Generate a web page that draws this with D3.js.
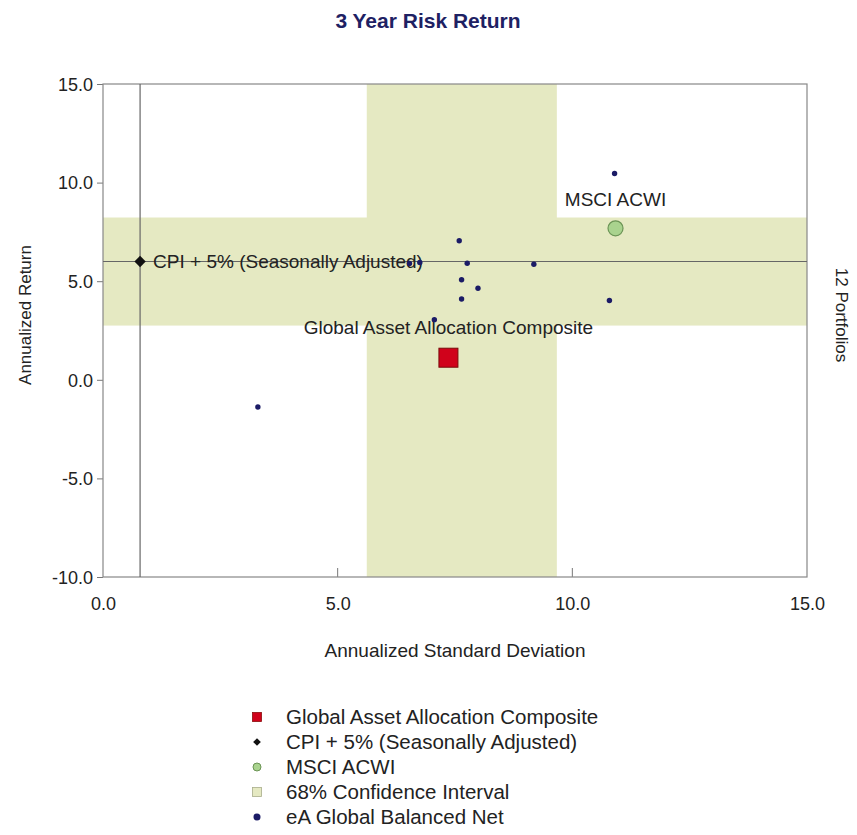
<!DOCTYPE html>
<html>
<head>
<meta charset="utf-8">
<script src="https://cdn.jsdelivr.net/npm/d3@7"></script>
<style>
  body { margin: 0; background: #fff; }
  text { font-family: "Liberation Sans", Arial, sans-serif; fill: #222; }
</style>
</head>
<body>
<svg id="chart" width="857" height="835"></svg>
<script>
// peer universe (eA Global Balanced Net): [std dev, return]
const peerRisk   = [10.90, 7.59, 7.76, 9.18, 7.64, 7.99, 7.64, 10.79, 3.30, 6.53, 6.75, 7.06];
const peerReturn = [10.46, 7.05, 5.91, 5.86, 5.07, 4.64, 4.10, 4.02, -1.38, 5.90, 5.95, 3.05];

const composite = {name: "Global Asset Allocation Composite", risk: 7.36, ret: 1.12};
const cpi = {name: "CPI + 5% (Seasonally Adjusted)", risk: 0.79, ret: 6.0};
const msci = {name: "MSCI ACWI", risk: 10.92, ret: 7.68};

// 68% confidence interval bands
const ciRisk = [5.62, 9.67];
const ciReturn = [2.75, 8.23];

const xTicks = [0, 5, 10, 15];
const yTicks = [-10, -5, 0, 5, 10, 15];

const legendItems = [
    {label: "Global Asset Allocation Composite", kind: "square"},
    {label: "CPI + 5% (Seasonally Adjusted)", kind: "diamond"},
    {label: "MSCI ACWI", kind: "circle"},
    {label: "68% Confidence Interval", kind: "ci"},
    {label: "eA Global Balanced Net", kind: "dot"}
];

let svg = d3.select("#chart");

let plot = {left: 103, right: 807, top: 84, bottom: 577};

let x = d3.scaleLinear().domain([0, 15]).range([plot.left, plot.right]);
let y = d3.scaleLinear().domain([-10, 15]).range([plot.bottom, plot.top]);

const bandColor = "#e5e9c2";
// plain hyphen for negatives, like the original
let fmt = d => d3.format(".1f")(d).replace("\u2212", "-");

// title
svg.append("text")
    .attr("x", 428).attr("y", 28)
    .attr("text-anchor", "middle")
    .style("font-size", "21px").style("font-weight", "bold")
    .style("fill", "#1e2163")
    .text("3 Year Risk Return");

// confidence bands
svg.append("rect")
    .attr("x", x(ciRisk[0])).attr("y", plot.top)
    .attr("width", x(ciRisk[1]) - x(ciRisk[0]))
    .attr("height", plot.bottom - plot.top)
    .attr("fill", bandColor);
svg.append("rect")
    .attr("x", plot.left).attr("y", y(ciReturn[1]))
    .attr("width", plot.right - plot.left)
    .attr("height", y(ciReturn[0]) - y(ciReturn[1]))
    .attr("fill", bandColor);

// axes
let yAxis = d3.axisLeft(y).tickValues(yTicks).tickSize(6).tickPadding(4).tickFormat(fmt);
let xAxis = d3.axisBottom(x).tickValues(xTicks).tickSize(0).tickPadding(20).tickFormat(fmt);

let gy = svg.append("g").attr("transform", "translate(" + plot.left + ",0)").call(yAxis);
let gx = svg.append("g").attr("transform", "translate(0," + plot.bottom + ")").call(xAxis);
[gx, gy].forEach(function (g) {
    g.select(".domain").remove();
    g.selectAll("line").attr("stroke", "#777");
    g.selectAll("text").style("font-size", "18px").style("fill", "#222")
        .style("font-family", "'Liberation Sans', Arial, sans-serif");
});
gy.selectAll("text").attr("dy", "0.35em");

// x ticks drawn up into the plot
svg.selectAll(".xtick").data(xTicks.slice(1, 3)).enter().append("line")
    .attr("x1", d => x(d)).attr("x2", d => x(d))
    .attr("y1", plot.bottom).attr("y2", plot.bottom - 9)
    .attr("stroke", "#777");

// frame
svg.append("rect")
    .attr("x", plot.left).attr("y", plot.top)
    .attr("width", plot.right - plot.left).attr("height", plot.bottom - plot.top)
    .attr("fill", "none").attr("stroke", "#888").attr("stroke-width", 1.2);

// CPI crosshair
svg.append("line")
    .attr("x1", plot.left).attr("x2", plot.right)
    .attr("y1", y(cpi.ret)).attr("y2", y(cpi.ret))
    .attr("stroke", "#666").attr("stroke-width", 1.2);
svg.append("line")
    .attr("x1", x(cpi.risk)).attr("x2", x(cpi.risk))
    .attr("y1", plot.top).attr("y2", plot.bottom)
    .attr("stroke", "#666").attr("stroke-width", 1.2);

// labels
svg.append("text")
    .attr("x", x(cpi.risk) + 13).attr("y", y(cpi.ret) + 7)
    .style("font-size", "19px").text(cpi.name);
svg.append("text")
    .attr("x", x(msci.risk)).attr("y", y(msci.ret) - 22)
    .attr("text-anchor", "middle")
    .style("font-size", "19px").text(msci.name);
svg.append("text")
    .attr("x", x(composite.risk)).attr("y", y(composite.ret) - 24)
    .attr("text-anchor", "middle")
    .style("font-size", "19px").text(composite.name);

// peers
let peers = peerRisk.map(function (r, i) { return {risk: r, ret: peerReturn[i]}; });
svg.selectAll(".peer").data(peers).enter().append("circle")
    .attr("class", "peer")
    .attr("cx", d => x(d.risk)).attr("cy", d => y(d.ret))
    .attr("r", 2.7).attr("fill", "#1b1b66");

// CPI diamond
svg.append("path")
    .attr("d", d3.symbol(d3.symbolSquare, 64)())
    .attr("transform", "translate(" + x(cpi.risk) + "," + y(cpi.ret) + ") rotate(45)")
    .attr("fill", "#111");

// MSCI circle
svg.append("circle")
    .attr("cx", x(msci.risk)).attr("cy", y(msci.ret))
    .attr("r", 7.5).attr("fill", "#a9d38e").attr("stroke", "#6b9455").attr("stroke-width", 1.2);

// composite square
svg.append("rect")
    .attr("x", x(composite.risk) - 9.5).attr("y", y(composite.ret) - 9.5)
    .attr("width", 19).attr("height", 19)
    .attr("fill", "#d0021b").attr("stroke", "#7a0a0a").attr("stroke-width", 1);

// axis titles
svg.append("text")
    .attr("x", 455).attr("y", 657)
    .attr("text-anchor", "middle")
    .style("font-size", "19px").text("Annualized Standard Deviation");
svg.append("text")
    .attr("transform", "translate(31,315) rotate(-90)")
    .attr("text-anchor", "middle")
    .style("font-size", "17px").text("Annualized Return");
svg.append("text")
    .attr("transform", "translate(836,315) rotate(90)")
    .attr("text-anchor", "middle")
    .style("font-size", "17px").text("12 Portfolios");

// legend
let legend = svg.selectAll(".legend").data(legendItems).enter().append("g")
    .attr("class", "legend")
    .attr("transform", (d, i) => "translate(257," + (717 + i * 25) + ")");

legend.each(function (d) {
    let g = d3.select(this);
    if (d.kind == "square") {
        g.append("rect").attr("x", -4.5).attr("y", -4.5).attr("width", 9).attr("height", 9)
            .attr("fill", "#d0021b").attr("stroke", "#8a0d0d").attr("stroke-width", 0.8);
    } else if (d.kind == "diamond") {
        g.append("path").attr("d", d3.symbol(d3.symbolSquare, 30)())
            .attr("transform", "rotate(45)").attr("fill", "#111");
    } else if (d.kind == "circle") {
        g.append("circle").attr("r", 4).attr("fill", "#a9d38e").attr("stroke", "#6b9455");
    } else if (d.kind == "ci") {
        g.append("rect").attr("x", -4.5).attr("y", -4.5).attr("width", 9).attr("height", 9)
            .attr("fill", bandColor).attr("stroke", "#a8ad8a").attr("stroke-width", 0.8);
    } else {
        g.append("circle").attr("r", 3.5).attr("fill", "#1b1b66");
    }
    g.append("text").attr("x", 29).attr("y", 7)
        .style("font-size", "20.5px").text(d.label);
});
</script>
</body>
</html>
